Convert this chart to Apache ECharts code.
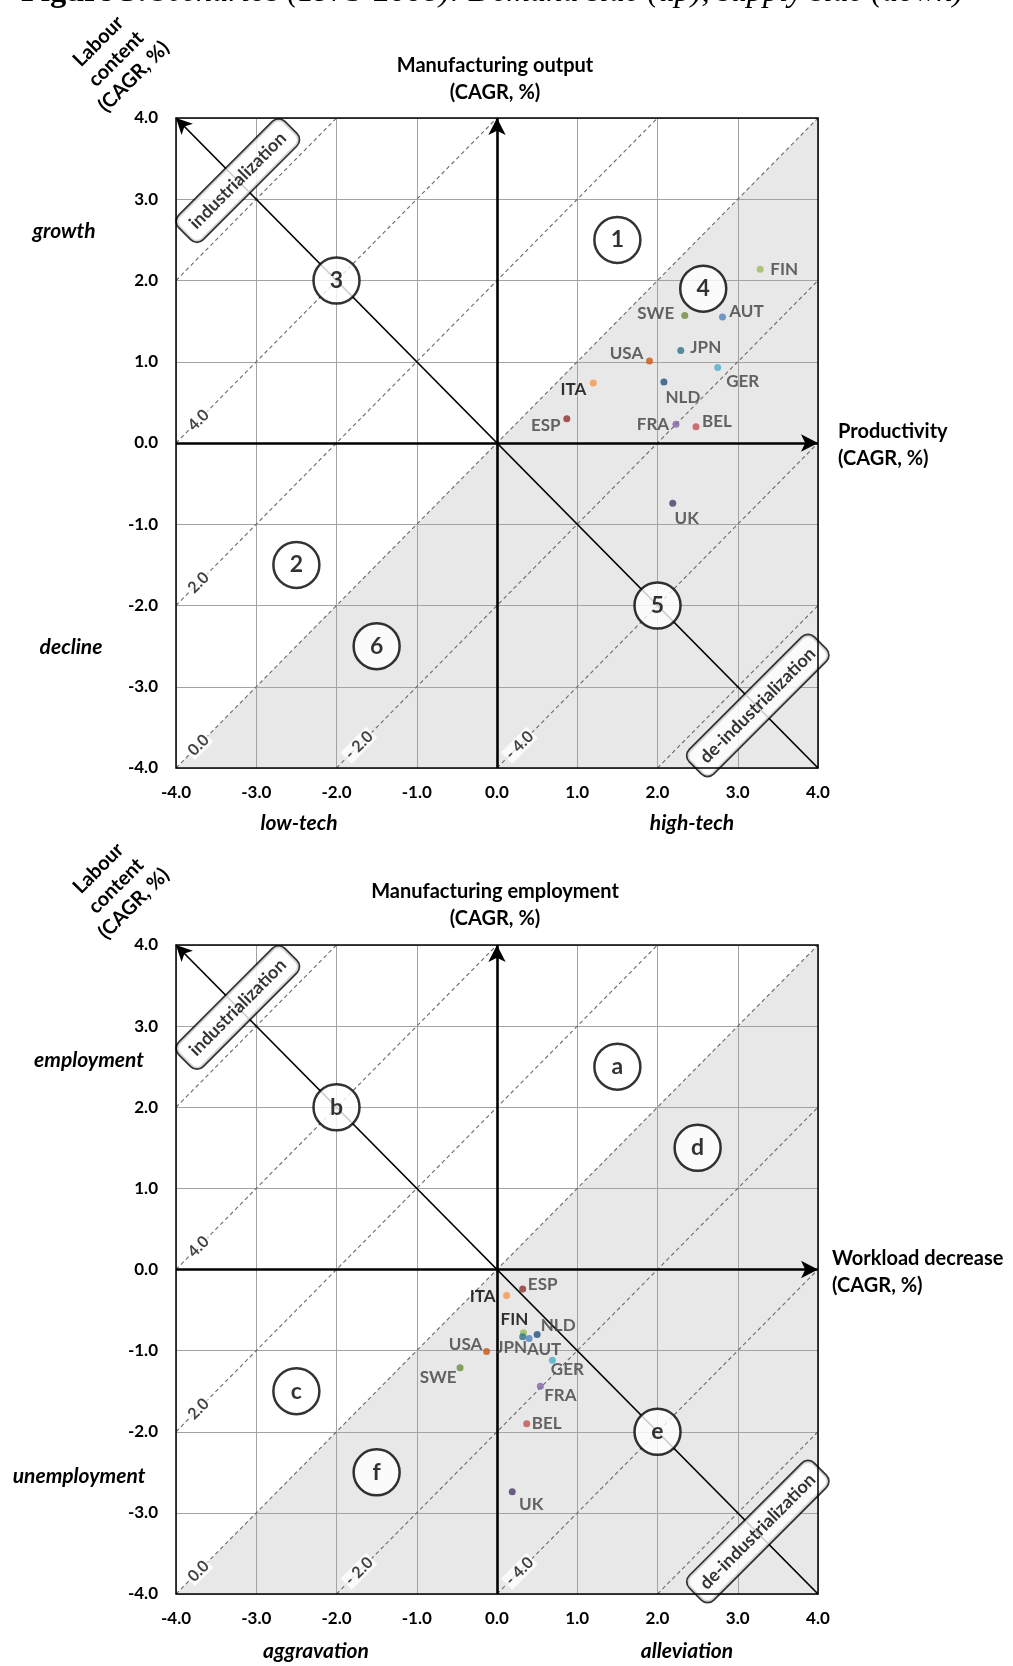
<!DOCTYPE html>
<html><head><meta charset="utf-8">
<script src="https://cdn.jsdelivr.net/npm/echarts@6/dist/echarts.min.js"></script>
<style>html,body{margin:0;padding:0;background:#fff}#c{width:1013px;height:1666px}</style>
</head><body><div id="c"></div>
<script>
// ---------------- data ----------------
const countries = ['FIN','SWE','AUT','JPN','USA','GER','ITA','NLD','ESP','FRA','BEL','UK'];
// Demand side (top): productivity vs manufacturing output (CAGR, %)
const productivity = [3.28, 2.34, 2.81, 2.29, 1.90, 2.75, 1.20, 2.08, 0.87, 2.23, 2.48, 2.19];
const outputGrowth = [2.14, 1.57, 1.55, 1.14, 1.01, 0.93, 0.74, 0.75, 0.30, 0.23, 0.20, -0.74];
// Supply side (bottom): workload decrease vs manufacturing employment (CAGR, %)
const workloadDecrease = [0.33, -0.46, 0.40, 0.32, -0.13, 0.69, 0.12, 0.50, 0.32, 0.54, 0.37, 0.19];
const employmentGrowth = [-0.78, -1.21, -0.85, -0.83, -1.01, -1.12, -0.32, -0.80, -0.24, -1.44, -1.90, -2.74];
// iso labour-content lines (output - productivity = c)
const isoLevels = [6, 4, 2, 0, -2, -4, -6];
const isoLabelLevels = [4, 2, 0, -2, -4];
const isoLabelTexts = ['4.0', '2.0', '0.0', '- 2.0', '- 4.0'];
// scenario markers
const topZoneNames = ['1', '2', '3', '4', '5', '6'];
const topZoneX = [1.5, -2.5, -2, 2.57, 2, -1.5];
const topZoneY = [2.5, -1.5, 2, 1.9, -2, -2.5];
const bottomZoneNames = ['a', 'b', 'c', 'd', 'e', 'f'];
const bottomZoneX = [1.5, -2, -2.5, 2.5, 2, -1.5];
const bottomZoneY = [2.5, 2, -1.5, 1.5, -2, -2.5];
const trendNames = ['industrialization', 'de-industrialization'];
const trendX = [-3.23, 3.25];
const trendY = [3.23, -3.23];
const axisMin = -4, axisMax = 4, axisStep = 1;

// ---------------- styles ----------------
const FONT = 'Lato, "Open Sans", sans-serif';
const countryColors = {FIN:'#9BBB59', SWE:'#6E8B3D', AUT:'#4F81BD', JPN:'#2E7386', USA:'#C65911', GER:'#4BACC6',
  ITA:'#F79646', NLD:'#254D7E', ESP:'#8B2F2D', FRA:'#8064A2', BEL:'#C0504D', UK:'#4A3A6A'};
const topLabelOffset = {FIN:[24,0], SWE:[-29,-2], AUT:[24,-6], JPN:[25,-3], USA:[-23,-7], GER:[25,14],
  ITA:[-20,7], NLD:[19,15], ESP:[-21,7], FRA:[-23,0], BEL:[21,-5], UK:[14,15]};
const bottomLabelOffset = {FIN:[-9,-13], SWE:[-22,10], AUT:[15,11], JPN:[-11,11], USA:[-21,-7], GER:[15,9],
  ITA:[-24,1], NLD:[21,-9], ESP:[20,-4], FRA:[20,9], BEL:[20,0], UK:[19,13]};
const topDark = {ITA:true};
const bottomDark = {ITA:true, FIN:true};

function isoSegment(c){
  const x1 = Math.max(axisMin, axisMin - c), x2 = Math.min(axisMax, axisMax - c);
  return [[x1, x1 + c], [x2, x2 + c]];
}

function buildSeries(gi, xs, ys, zoneNames, zoneX, zoneY, labelOffset, dark){
  const s = [];
  // shaded half-plane (labour content < 0)
  s.push({type:'custom', xAxisIndex:gi, yAxisIndex:gi, z:1, silent:true, animation:false,
    data:[[0,0]],
    renderItem:(p, api)=>{
      const pts = [[axisMin,axisMin],[axisMax,axisMax],[axisMax,axisMin]].map(q=>api.coord(q));
      return {type:'polygon', shape:{points:pts}, style:{fill:'#e8e8e8'}};
    }});
  // dashed iso lines
  isoLevels.forEach(c=>{
    s.push({type:'line', xAxisIndex:gi, yAxisIndex:gi, z:4, silent:true, animation:false,
      symbol:'none', data:isoSegment(c),
      lineStyle:{color:'#6a6a6a', width:1.1, type:[4,3]}});
  });
  // iso labels
  s.push({type:'scatter', xAxisIndex:gi, yAxisIndex:gi, z:6, silent:true, animation:false,
    symbol:'circle', symbolSize:1, itemStyle:{color:'rgba(0,0,0,0)'},
    data:isoLabelLevels.map((c,i)=>{ const x = isoSegment(c)[0][0] + 0.28; return {name:isoLabelTexts[i], value:[x, x + c]}; }),
    label:{show:true, position:'inside', formatter:'{b}', rotate:45, backgroundColor:'#fff', padding:[0,2],
      fontFamily:FONT, fontSize:16, fontWeight:'bold', color:'#111'}});
  // arrows: axes and labour content diagonal
  s.push({type:'scatter', xAxisIndex:gi, yAxisIndex:gi, z:5, silent:true, animation:false, data:[],
    markLine:{silent:true, animation:false, label:{show:false}, symbol:['none','none'],
      data:[
        [{coord:[axisMin,0], symbol:'none', lineStyle:{color:'#000', width:2.6, type:'solid'}},
         {coord:[axisMax,0], symbol:'arrow', symbolSize:[13,17]}],
        [{coord:[0,axisMin], symbol:'none', lineStyle:{color:'#000', width:2.6, type:'solid'}},
         {coord:[0,axisMax], symbol:'arrow', symbolSize:[13,17]}],
        [{coord:[axisMax,axisMin], symbol:'none', lineStyle:{color:'#000', width:1.7, type:'solid'}},
         {coord:[axisMin,axisMax], symbol:'arrow', symbolSize:[12,16]}]
      ]}});
  // trend boxes
  s.push({type:'scatter', xAxisIndex:gi, yAxisIndex:gi, z:7, silent:true, animation:false,
    symbol:'circle', symbolSize:1, itemStyle:{color:'rgba(0,0,0,0)'},
    data:trendNames.map((n,i)=>({name:n, value:[trendX[i], trendY[i]]})),
    label:{show:true, position:'inside', formatter:'{b}', rotate:45, backgroundColor:'#fff',
      borderColor:'#000', borderWidth:1.7, borderRadius:8, padding:[8,10,7,10],
      fontFamily:FONT, fontSize:18, fontWeight:'bold', color:'#000'}});
  // scenario circles
  s.push({type:'scatter', xAxisIndex:gi, yAxisIndex:gi, z:8, silent:true, animation:false,
    symbol:'circle', symbolSize:46, itemStyle:{color:'#fff', borderColor:'#000', borderWidth:2.5},
    data:zoneNames.map((n,i)=>({name:n, value:[zoneX[i], zoneY[i]]})),
    label:{show:true, position:'inside', formatter:'{b}', fontFamily:FONT, fontSize:23, fontWeight:'bold', color:'#000'}});
  // countries
  s.push({type:'scatter', xAxisIndex:gi, yAxisIndex:gi, z:9, silent:true, animation:false,
    symbol:'circle', symbolSize:7,
    data:countries.map((n,i)=>({name:n, value:[xs[i], ys[i]], itemStyle:{color:countryColors[n]},
      label:{offset:labelOffset[n], color: dark[n] ? '#000' : '#404040'}})),
    label:{show:true, position:'inside', formatter:'{b}', fontFamily:FONT, fontSize:17, fontWeight:'bold'}});
  return s;
}

function axis(gi, margin){
  return {gridIndex:gi, type:'value', min:axisMin, max:axisMax, interval:axisStep, z:3,
    axisLine:{show:false}, axisTick:{show:false},
    splitLine:{show:true, lineStyle:{color:'#a3a3a3', width:1}},
    axisLabel:{margin:margin, formatter:v=>v.toFixed(1), fontFamily:FONT, fontSize:17, fontWeight:'bold', color:'#000'}};
}

const txt = (x, y, text, extra) => ({type:'text', x, y, silent:true,
  style:Object.assign({text, fontFamily:FONT, fontSize:20, fontWeight:'bold', fill:'#000', align:'center', verticalAlign:'middle'}, extra || {})});
const rot = (x, y) => ({type:'text', x, y, rotation:Math.PI/4, silent:true,
  style:{text:'Labour\ncontent\n(CAGR, %)', fontFamily:FONT, fontSize:20, fontWeight:'bold', fill:'#000', align:'center', verticalAlign:'middle', lineHeight:25}});

const option = {
  animation:false,
  backgroundColor:'#fff',
  grid:[
    {left:176, top:118, width:642, height:650, show:true, borderColor:'#000', borderWidth:1.5, z:10},
    {left:176, top:945, width:642, height:649, show:true, borderColor:'#000', borderWidth:1.5, z:10}
  ],
  xAxis:[axis(0, 16), axis(1, 16)],
  yAxis:[axis(0, 18), axis(1, 18)],
  series:[].concat(
    buildSeries(0, productivity, outputGrowth, topZoneNames, topZoneX, topZoneY, topLabelOffset, topDark),
    buildSeries(1, workloadDecrease, employmentGrowth, bottomZoneNames, bottomZoneX, bottomZoneY, bottomLabelOffset, bottomDark)
  ),
  graphic:[
    {type:'text', x:21, y:9, silent:true, style:{
      text:'{b|Figure 3:} {i|Scenarios (1975-2008): Demand side (up), supply side (down)}',
      verticalAlign:'bottom', align:'left',
      rich:{b:{fontFamily:'"Liberation Serif", serif', fontSize:32.5, fontWeight:'bold', fill:'#000'},
            i:{fontFamily:'"Liberation Serif", serif', fontSize:32.5, fontStyle:'italic', fill:'#000'}}}},
    rot(116, 59),
    txt(495, 79, 'Manufacturing output\n(CAGR, %)', {lineHeight:27}),
    txt(838, 445, 'Productivity\n(CAGR, %)', {align:'left', lineHeight:27}),
    txt(64, 231, 'growth', {fontStyle:'italic', fontSize:21}),
    txt(71, 647, 'decline', {fontStyle:'italic', fontSize:21}),
    txt(299, 823, 'low-tech', {fontStyle:'italic', fontSize:21}),
    txt(692, 823, 'high-tech', {fontStyle:'italic', fontSize:21}),
    rot(116, 886),
    txt(495, 905, 'Manufacturing employment\n(CAGR, %)', {lineHeight:27}),
    txt(832, 1272, 'Workload decrease\n(CAGR, %)', {align:'left', lineHeight:27}),
    txt(89, 1060, 'employment', {fontStyle:'italic', fontSize:21}),
    txt(79, 1476, 'unemployment', {fontStyle:'italic', fontSize:21}),
    txt(316, 1651, 'aggravation', {fontStyle:'italic', fontSize:21}),
    txt(687, 1651, 'alleviation', {fontStyle:'italic', fontSize:21})
  ]
};
const chart = echarts.init(document.getElementById('c'), null, {renderer:'canvas'});
chart.setOption(option);
</script></body></html>
